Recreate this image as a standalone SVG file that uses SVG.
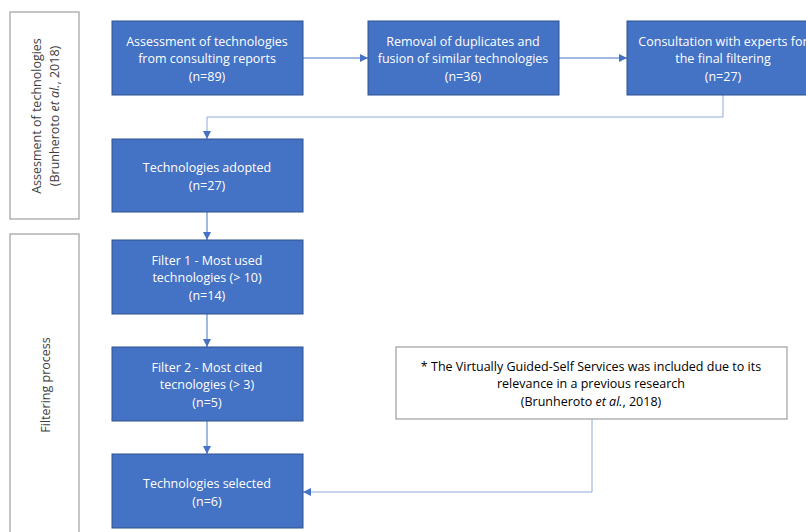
<svg xmlns="http://www.w3.org/2000/svg" width="806" height="532" viewBox="0 0 806 532">
<defs>
<style>
.node{fill:#4472C4;stroke:#2F528F;stroke-width:1}
.nt{fill:#FFFFFF;font-family:"Open Sans","Liberation Sans",sans-serif;font-size:12.5px;text-anchor:middle}
.side{fill:#FFFFFF;stroke:#A6A6A6;stroke-width:1.3}
.st{fill:#404040;font-family:"Open Sans","Liberation Sans",sans-serif;font-size:12.5px;text-anchor:middle}
.note{fill:#FFFFFF;stroke:#A6A6A6;stroke-width:1.3}
.ntx{fill:#000000;font-family:"Open Sans","Liberation Sans",sans-serif;font-size:12.5px;text-anchor:middle}
.conn{fill:none;stroke:#4472C4;stroke-width:1}
.conn2{fill:none;stroke:#8FAADC;stroke-width:1}
</style>
<marker id="arr" viewBox="0 0 10 10" refX="10" refY="5" markerWidth="8" markerHeight="8" markerUnits="userSpaceOnUse" orient="auto">
<path d="M0,0 L10,5 L0,10 z" fill="#4472C4"/>
</marker>
</defs>
<rect width="806" height="532" fill="#FFFFFF"/>

<g id="phase1">
<rect class="side" x="10" y="12" width="69" height="207"/>
<text class="st" transform="translate(41,116) rotate(-90)">Assesment of technologies</text>
<text class="st" transform="translate(59,116) rotate(-90)">(Brunheroto <tspan font-style="italic">et al.</tspan>, 2018)</text>
</g>
<g id="phase2">
<rect class="side" x="10" y="234" width="69" height="310"/>
<text class="st" transform="translate(50,385) rotate(-90)">Filtering process</text>
</g>

<g id="connectors">
<path class="conn" d="M303,58 L368,58" marker-end="url(#arr)"/>
<path class="conn" d="M559,58 L627,58" marker-end="url(#arr)"/>
<path class="conn2" d="M723,95 L723,117 L207,117 L207,139" marker-end="url(#arr)"/>
<path class="conn" d="M207,212 L207,240" marker-end="url(#arr)"/>
<path class="conn" d="M207,314 L207,347" marker-end="url(#arr)"/>
<path class="conn" d="M207,421 L207,454" marker-end="url(#arr)"/>
<path class="conn2" d="M592,419 L592,492 L303,492" marker-end="url(#arr)"/>
</g>

<g id="n1">
<rect class="node" x="112" y="21" width="191" height="74"/>
<text class="nt" x="207" y="46">Assessment of technologies</text>
<text class="nt" x="207" y="63">from consulting reports</text>
<text class="nt" x="207" y="81">(n=89)</text>
</g>
<g id="n2">
<rect class="node" x="368" y="21" width="191" height="74"/>
<text class="nt" x="463" y="46">Removal of duplicates and</text>
<text class="nt" x="463" y="63">fusion of similar technologies</text>
<text class="nt" x="463" y="81">(n=36)</text>
</g>
<g id="n3">
<rect class="node" x="627" y="21" width="192" height="74"/>
<text class="nt" x="723" y="46">Consultation with experts for</text>
<text class="nt" x="723" y="63">the final filtering</text>
<text class="nt" x="723" y="81">(n=27)</text>
</g>
<g id="n4">
<rect class="node" x="112" y="139" width="191" height="73"/>
<text class="nt" x="207" y="172">Technologies adopted</text>
<text class="nt" x="207" y="190">(n=27)</text>
</g>
<g id="n5">
<rect class="node" x="112" y="240" width="191" height="74"/>
<text class="nt" x="207" y="265">Filter 1 - Most used</text>
<text class="nt" x="207" y="282">technologies (&gt; 10)</text>
<text class="nt" x="207" y="300">(n=14)</text>
</g>
<g id="n6">
<rect class="node" x="112" y="347" width="191" height="74"/>
<text class="nt" x="207" y="372">Filter 2 - Most cited</text>
<text class="nt" x="207" y="389">tecnologies (&gt; 3)</text>
<text class="nt" x="207" y="407">(n=5)</text>
</g>
<g id="n7">
<rect class="node" x="112" y="454" width="191" height="74"/>
<text class="nt" x="207" y="488">Technologies selected</text>
<text class="nt" x="207" y="506">(n=6)</text>
</g>
<g id="note">
<rect class="note" x="396" y="347" width="391" height="72"/>
<text class="ntx" x="591" y="371">* The Virtually Guided-Self Services was included due to its</text>
<text class="ntx" x="591" y="388">relevance in a previous research</text>
<text class="ntx" x="591" y="406">(Brunheroto <tspan font-style="italic">et al.</tspan>, 2018)</text>
</g>
</svg>
